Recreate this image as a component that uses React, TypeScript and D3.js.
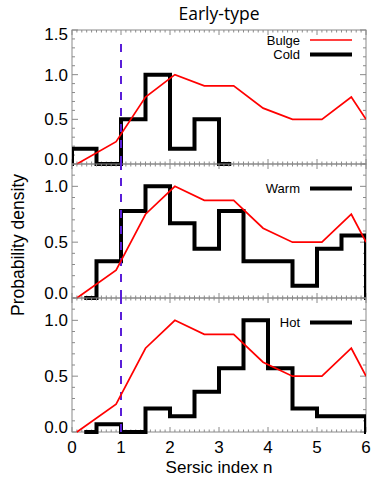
import React, { useEffect, useRef } from "react";
import * as d3 from "d3";

// chart data
const xTicks = [0, 1, 2, 3, 4, 5, 6];
const bulgeX = [0.1, 0.9, 1.5, 2.1, 2.7, 3.3, 3.9, 4.5, 5.1, 5.7, 6.0];
const bulgeY = [0.0, 0.25, 0.75, 1.0, 0.875, 0.875, 0.625, 0.5, 0.5, 0.75, 0.5];

const coldCenters = [-0.25, 0.25, 0.75, 1.25, 1.75, 2.25, 2.75, 3.25];
const coldValues = [0, 0.17, 0, 0.5, 1.0, 0.17, 0.5, 0];

const warmCenters = [0.25, 0.75, 1.25, 1.75, 2.25, 2.75, 3.25, 3.75, 4.25, 4.75, 5.25, 5.75, 6.25];
const warmValues = [0, 0.33, 0.78, 1.0, 0.67, 0.44, 0.78, 0.33, 0.33, 0.11, 0.44, 0.56, 0];

const hotCenters = [0.25, 0.75, 1.25, 1.75, 2.25, 2.75, 3.25, 3.75, 4.25, 4.75, 5.25, 5.75, 6.25];
const hotValues = [0, 0.07, 0, 0.21, 0.14, 0.36, 0.57, 1.0, 0.57, 0.21, 0.14, 0.14, 0];

const panelNames = ["Cold", "Warm", "Hot"];
const panelMax = [1.5, 1.2, 1.2];
const panelYTicks = [[0, 0.5, 1.0, 1.5], [0, 0.5, 1.0], [0, 0.5, 1.0]];
const cutN = 1; // dashed line position
const cutTop = 1.42;

const W = 382;
const H = 483;
const left = 72;
const right = 366;
const top = 30;
const panelH = 134;
const frameColor = "#8a8a8a";
const sans = "'Liberation Sans', Arial, sans-serif";

// IDL psym=10 style step line through bin centres
function stepPoints(centers: number[], values: number[]): [number, number][] {
  const pts: [number, number][] = [[centers[0], values[0]]];
  for (let i = 1; i < centers.length; i++) {
    const mid = (centers[i - 1] + centers[i]) / 2;
    pts.push([mid, values[i - 1]]);
    pts.push([mid, values[i]]);
  }
  pts.push([centers[centers.length - 1], values[values.length - 1]]);
  return pts;
}

export default function App() {
  const ref = useRef<SVGSVGElement>(null);

  useEffect(() => {
    const svg = d3.select(ref.current);
    svg.selectAll("*").remove();

    const x = d3.scaleLinear().domain([0, 6]).range([left, right]);
    const hists = [
      stepPoints(coldCenters, coldValues),
      stepPoints(warmCenters, warmValues),
      stepPoints(hotCenters, hotValues),
    ];

    panelNames.forEach((name, p) => {
      const y0 = top + p * panelH;
      const y = d3.scaleLinear().domain([0, panelMax[p]]).range([y0 + panelH, y0]);
      const g = svg.append("g");

      const clipId = `clip-${p}`;
      svg.append("clipPath").attr("id", clipId)
        .append("rect")
        .attr("x", left).attr("y", y0 - 2)
        .attr("width", right - left).attr("height", panelH + 4);

      // minor + major ticks, inward, on all four sides
      const xMinor = d3.range(0, 6.0001, 0.1);
      xMinor.forEach((v) => {
        const major = Math.abs(v - Math.round(v)) < 1e-6;
        const len = major ? 5 : 2.5;
        g.append("line").attr("x1", x(v)).attr("x2", x(v))
          .attr("y1", y0 + panelH).attr("y2", y0 + panelH - len)
          .attr("stroke", frameColor).attr("stroke-width", 1);
        g.append("line").attr("x1", x(v)).attr("x2", x(v))
          .attr("y1", y0).attr("y2", y0 + len)
          .attr("stroke", frameColor).attr("stroke-width", 1);
      });
      const yMinor = d3.range(0, panelMax[p] + 0.0001, 0.1);
      yMinor.forEach((v) => {
        const major = Math.abs(v * 2 - Math.round(v * 2)) < 1e-6;
        const len = major ? 6 : 3;
        g.append("line").attr("x1", left).attr("x2", left + len)
          .attr("y1", y(v)).attr("y2", y(v))
          .attr("stroke", frameColor).attr("stroke-width", 1);
        g.append("line").attr("x1", right).attr("x2", right - len)
          .attr("y1", y(v)).attr("y2", y(v))
          .attr("stroke", frameColor).attr("stroke-width", 1);
      });

      g.append("rect")
        .attr("x", left).attr("y", y0)
        .attr("width", right - left).attr("height", panelH)
        .attr("fill", "none").attr("stroke", frameColor).attr("stroke-width", 1);

      // y tick labels
      panelYTicks[p].forEach((v) => {
        let cy = y(v);
        cy = Math.min(cy, y0 + panelH - 5);
        cy = Math.max(cy, y0 + 4);
        g.append("text")
          .attr("x", left - 4).attr("y", cy)
          .attr("dy", "0.36em")
          .attr("text-anchor", "end")
          .attr("font-family", sans).attr("font-size", 17)
          .text(d3.format(".1f")(v));
      });

      const data = svg.append("g").attr("clip-path", `url(#${clipId})`);

      const line = d3.line<[number, number]>().x((d) => x(d[0])).y((d) => y(d[1]));
      const bulgePts = bulgeX.map((v, i) => [v, bulgeY[i]] as [number, number]);

      // histogram
      data.append("path")
        .attr("d", line(hists[p]))
        .attr("fill", "none").attr("stroke", "#000")
        .attr("stroke-width", 4).attr("stroke-linejoin", "miter");

      // dashed cut
      data.append("line")
        .attr("x1", x(cutN)).attr("x2", x(cutN))
        .attr("y1", y(0)).attr("y2", y(cutTop))
        .attr("stroke", "#5a1ed8").attr("stroke-width", 2)
        .attr("stroke-dasharray", "8,8");

      // bulge line
      data.append("path")
        .attr("d", line(bulgePts))
        .attr("fill", "none").attr("stroke", "#ff0000")
        .attr("stroke-width", 1.7);

      // legend
      const legend = p === 0
        ? [{ label: "Bulge", color: "#ff0000", w: 1.7, row: 0 }, { label: name, color: "#000", w: 4, row: 1 }]
        : [{ label: name, color: "#000", w: 4, row: 1 }];
      legend.forEach((item) => {
        const ly = y0 + 10 + item.row * 14.5;
        g.append("line").attr("x1", 310).attr("x2", 352)
          .attr("y1", ly).attr("y2", ly)
          .attr("stroke", item.color).attr("stroke-width", item.w);
        g.append("text")
          .attr("x", 300).attr("y", ly + 4.5)
          .attr("text-anchor", "end")
          .attr("font-family", sans).attr("font-size", 13)
          .text(item.label);
      });
    });

    // x tick labels
    const bottom = top + 3 * panelH;
    xTicks.forEach((v) => {
      svg.append("text")
        .attr("x", x(v)).attr("y", bottom + 21)
        .attr("text-anchor", "middle")
        .attr("font-family", sans).attr("font-size", 17)
        .text(v);
    });

    svg.append("text")
      .attr("x", (left + right) / 2).attr("y", 473)
      .attr("text-anchor", "middle")
      .attr("font-family", sans).attr("font-size", 17)
      .text("Sersic index n");

    svg.append("text")
      .attr("transform", `translate(24,245) rotate(-90)`)
      .attr("text-anchor", "middle")
      .attr("font-family", sans).attr("font-size", 17.5)
      .text("Probability density");

    svg.append("text")
      .attr("x", (left + right) / 2).attr("y", 20)
      .attr("text-anchor", "middle")
      .attr("font-family", "'Open Sans', sans-serif").attr("font-size", 17.5)
      .text("Early-type");
  }, []);

  return (
    <svg
      ref={ref}
      width={W}
      height={H}
      style={{ position: "absolute", left: 0, top: 0, background: "#fff" }}
    />
  );
}
